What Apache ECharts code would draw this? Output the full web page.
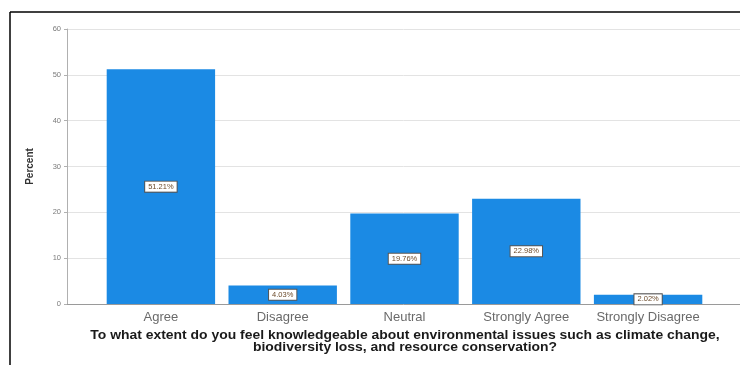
<!DOCTYPE html>
<html>
<head>
<meta charset="utf-8">
<script src="https://cdn.jsdelivr.net/npm/echarts@6/dist/echarts.min.js"></script>
<style>
  html, body { margin: 0; padding: 0; background: #fff; }
  #chart { width: 740px; height: 365px; }
</style>
</head>
<body>
<div id="chart"></div>
<script>
// Response categories and their share of respondents (percent)
const categories = ['Agree', 'Disagree', 'Neutral', 'Strongly Agree', 'Strongly Disagree'];
const percents = [51.21, 4.03, 19.76, 22.98, 2.02];
const yTicks = [0, 10, 20, 30, 40, 50, 60];
const xTitle = 'To what extent do you feel knowledgeable about environmental issues such as climate change,\nbiodiversity loss, and resource conservation?';

const FONT = '"Liberation Sans", Arial, sans-serif';
const chart = echarts.init(document.getElementById('chart'));

chart.setOption({
  animation: false,
  textStyle: { fontFamily: FONT },
  grid: [
    // frame grid: carries the percent scale, gridlines and baseline
    { left: 67, right: 0, top: 29, bottom: 61 },
    // bar grid: categories sit inset from the axis
    { left: 100, right: 31, top: 29, bottom: 61 }
  ],
  xAxis: [
    {
      gridIndex: 0, type: 'value', min: 0, max: 1,
      axisLine: { show: true, lineStyle: { color: '#9a9a9a', width: 1 } },
      axisTick: { show: false }, axisLabel: { show: false }, splitLine: { show: false }
    },
    {
      gridIndex: 1, type: 'category', data: categories,
      axisLine: { show: false }, axisTick: { show: false },
      axisLabel: { color: '#6a6a6a', fontSize: 13, margin: 7, interval: 0, fontFamily: FONT }
    }
  ],
  yAxis: [
    {
      gridIndex: 0, type: 'value',
      min: yTicks[0], max: yTicks[yTicks.length - 1], interval: 10,
      axisLine: { show: true, lineStyle: { color: '#b0b0b0', width: 1 } },
      axisTick: { show: true, length: 3, lineStyle: { color: '#b0b0b0' } },
      axisLabel: { color: '#7a7a7a', fontSize: 7.5, margin: 6, fontFamily: FONT },
      splitLine: { show: true, lineStyle: { color: '#e3e3e3', width: 1 } },
      name: 'Percent', nameLocation: 'middle', nameGap: 32,
      nameTextStyle: { color: '#333', fontSize: 10, fontWeight: 'bold', fontFamily: FONT }
    },
    {
      gridIndex: 1, type: 'value', min: 0, max: 60, show: false
    }
  ],
  series: [{
    type: 'bar',
    xAxisIndex: 1, yAxisIndex: 1,
    data: percents,
    barCategoryGap: '11%',
    itemStyle: { color: '#1b8ae4' },
    label: {
      show: true, position: 'inside',
      formatter: p => p.value.toFixed(2) + '%',
      backgroundColor: '#ffffff', borderColor: '#555', borderWidth: 1,
      padding: [1, 3, 1, 3], fontSize: 7.5, color: '#6b4a2a', fontFamily: FONT
    }
  }],
  graphic: [
    { type: 'line', shape: { x1: 10, y1: 12, x2: 740, y2: 12 }, style: { stroke: '#000', lineWidth: 1.5 } },
    { type: 'line', shape: { x1: 10, y1: 12, x2: 10, y2: 365 }, style: { stroke: '#000', lineWidth: 1.5 } },
    // axis title, slightly widened letterforms
    {
      type: 'text', x: 405, y: 330, scaleX: 1.16,
      style: {
        text: xTitle, align: 'center', verticalAlign: 'top',
        font: 'bold 12px ' + FONT, lineHeight: 12, fill: '#1a1a1a'
      }
    }
  ]
});
</script>
</body>
</html>
